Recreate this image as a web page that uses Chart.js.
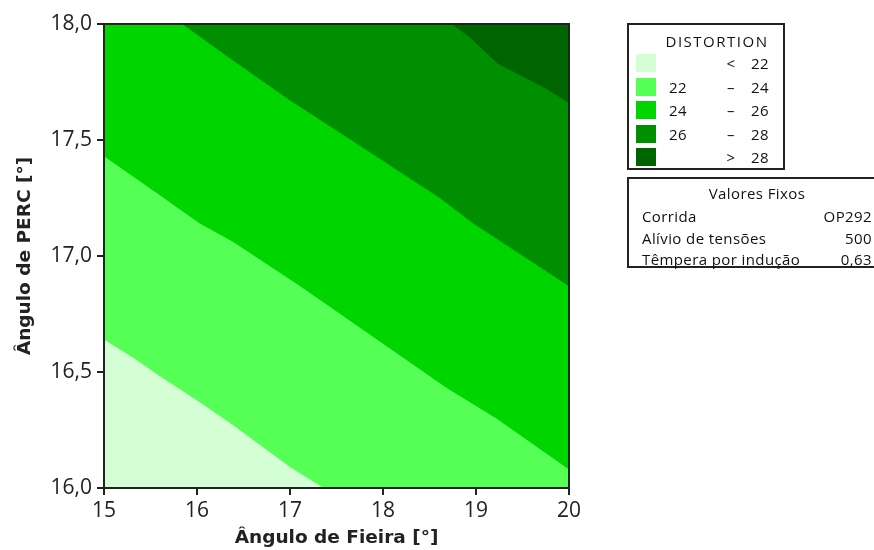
<!DOCTYPE html>
<html>
<head>
<meta charset="utf-8">
<script src="https://cdn.jsdelivr.net/npm/chart.js@4"></script>
<style>
  html, body { margin: 0; padding: 0; overflow: hidden; background: #fff; }
  #wrap { position: relative; width: 874px; height: 550px; }
  #chart { position: absolute; left: 0; top: 0; }
  .box { position: absolute; border: 2px solid #222; box-sizing: border-box; background: #fff; }
  .t { position: absolute; font-family: 'Open Sans', sans-serif; font-size: 15px; color: #111;
       line-height: 20px; height: 20px; white-space: nowrap; letter-spacing: 0.4px; }
  .sw { position: absolute; width: 20px; height: 18px; }
</style>
</head>
<body>
<div id="wrap">
  <canvas id="chart" width="874" height="550"></canvas>
  <div id="legend"></div>
</div>
<script>
// contour boundaries (x = Ângulo de Fieira, y = Ângulo de PERC)
const edge22X = [15, 15.32, 15.57, 16.03, 16.39, 17.0, 17.36];
const edge22Y = [16.64, 16.56, 16.49, 16.37, 16.27, 16.09, 16.0];
const edge24X = [15, 15.57, 16.03, 16.39, 17.11, 17.54, 18.69, 19.22, 20];
const edge24Y = [17.43, 17.27, 17.14, 17.06, 16.87, 16.75, 16.43, 16.30, 16.08];
const edge26X = [15, 15.84, 16.36, 17.0, 17.54, 18.61, 18.97, 20];
const edge26Y = [18.0, 18.0, 17.85, 17.67, 17.53, 17.25, 17.14, 16.87];
const edge28X = [15, 18.74, 18.94, 19.23, 19.76, 20];
const edge28Y = [18.0, 18.0, 17.94, 17.83, 17.72, 17.66];

const levelFrom = ['', '22', '24', '26', ''];
const levelSign = ['<', '–', '–', '–', '>'];
const levelTo = ['22', '24', '26', '28', '28'];
const levelColors = ['#d4ffd4', '#55ff55', '#00d500', '#008f00', '#006400'];

const fixedNames = ['Corrida', 'Alívio de tensões', 'Têmpera por indução'];
const fixedValues = ['OP292', '500', '0,63'];

const xTicks = [15, 16, 17, 18, 19, 20];
const yTicks = [16, 16.5, 17, 17.5, 18];

const toPoints = (xs, ys) => xs.map((x, i) => ({ x, y: ys[i] }));

// legend + fixed values table (html)
const legend = document.getElementById('legend');
const add = (cls, css, text) => {
  const el = document.createElement('div');
  el.className = cls;
  Object.assign(el.style, css);
  if (text != null) el.textContent = text;
  legend.appendChild(el);
  return el;
};

add('box', { left: '627px', top: '23px', width: '158px', height: '147px' });
add('t', { left: '617px', top: '31px', width: '200px', textAlign: 'center', letterSpacing: '1.5px' }, 'DISTORTION');
levelColors.forEach((c, i) => {
  const cy = 63 + i * 23.5;
  add('sw', { left: '636px', top: (cy - 9) + 'px', background: c });
  add('t', { left: '669px', top: (cy - 10) + 'px' }, levelFrom[i]);
  add('t', { left: '711px', top: (cy - 10) + 'px', width: '40px', textAlign: 'center' }, levelSign[i]);
  add('t', { right: (874 - 769) + 'px', top: (cy - 10) + 'px', textAlign: 'right' }, levelTo[i]);
});

add('box', { left: '627px', top: '177px', width: '252px', height: '91px' });
add('t', { left: '657px', top: '183px', width: '200px', textAlign: 'center' }, 'Valores Fixos');
fixedNames.forEach((name, i) => {
  const cy = 216 + i * 21.5;
  add('t', { left: '642px', top: (cy - 10) + 'px' }, name);
  add('t', { right: '2px', top: (cy - 10) + 'px', textAlign: 'right' }, fixedValues[i]);
});

// plot area background (> 28 level) and frame
const plotFrame = {
  id: 'plotFrame',
  beforeDatasetsDraw(chart) {
    const { ctx, chartArea: a } = chart;
    ctx.save();
    ctx.fillStyle = levelColors[4];
    ctx.fillRect(a.left, a.top, a.right - a.left, a.bottom - a.top);
    ctx.restore();
  },
  afterDatasetsDraw(chart) {
    const { ctx, chartArea: a } = chart;
    ctx.save();
    ctx.strokeStyle = '#222';
    ctx.lineWidth = 2;
    ctx.strokeRect(a.left, a.top, a.right - a.left, a.bottom - a.top);
    ctx.restore();
  }
};

const region = (xs, ys, color) => ({
  data: toPoints(xs, ys),
  backgroundColor: color,
  borderColor: 'transparent',
  borderWidth: 0,
  pointRadius: 0,
  fill: 'start'
});

const tickFont = { family: 'Open Sans', size: 21 };
const titleFont = { family: 'DejaVu Sans', size: 18.5, weight: 'bold' };

const draw = () => {
  new Chart(document.getElementById('chart'), {
    type: 'line',
    data: {
      // dataset 0 is drawn on top
      datasets: [
        region(edge22X, edge22Y, levelColors[0]),
        region(edge24X, edge24Y, levelColors[1]),
        region(edge26X, edge26Y, levelColors[2]),
        region(edge28X, edge28Y, levelColors[3])
      ]
    },
    options: {
      responsive: false,
      animation: false,
      events: [],
      layout: { padding: { left: 0, right: 305, top: 24, bottom: 0 } },
      plugins: { legend: { display: false }, tooltip: { enabled: false } },
      scales: {
        x: {
          type: 'linear',
          min: 15,
          max: 20,
          afterBuildTicks: s => { s.ticks = xTicks.map(v => ({ value: v })); },
          afterFit: s => { s.height = 62; },
          grid: { drawOnChartArea: false, tickLength: 7, color: '#222', lineWidth: 2 },
          border: { display: false },
          ticks: { font: tickFont, color: '#222', padding: 3, maxRotation: 0 },
          title: { display: true, text: 'Ângulo de Fieira [°]', font: titleFont, color: '#222', padding: { top: 0, bottom: 1 } }
        },
        y: {
          type: 'linear',
          min: 16,
          max: 18,
          afterBuildTicks: s => { s.ticks = yTicks.map(v => ({ value: v })); },
          afterFit: s => { s.width = 104; },
          grid: { drawOnChartArea: false, tickLength: 7, color: '#222', lineWidth: 2 },
          border: { display: false },
          ticks: {
            font: tickFont,
            color: '#222',
            padding: 5,
            callback: v => v.toFixed(1).replace('.', ',')
          },
          title: { display: true, text: 'Ângulo de PERC [°]', font: titleFont, color: '#222', padding: { top: 14, bottom: 0 } }
        }
      }
    },
    plugins: [plotFrame]
  });
};

Promise.all([
  document.fonts.load('21px "Open Sans"'),
  document.fonts.load('bold 18.5px "DejaVu Sans"'),
  document.fonts.load('15px "Open Sans"')
]).then(draw, draw);
</script>
</body>
</html>
